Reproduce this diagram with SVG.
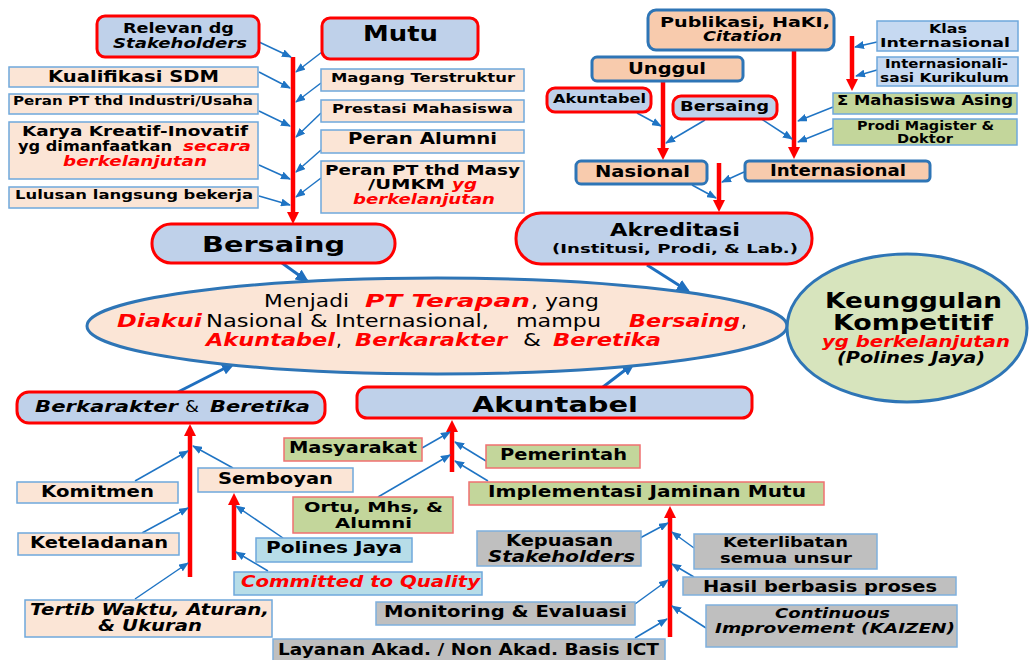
<svg xmlns="http://www.w3.org/2000/svg" width="1029" height="660" viewBox="0 0 1029 660">
<defs>
<style>
text { font-family: "DejaVu Sans", Verdana, "Liberation Sans", sans-serif; font-weight: bold; fill: #000; }
.i { font-style: italic; }
.r { fill: #ff0000; }
.n { font-weight: normal; }
.nb { fill: #bfd1ea; stroke: #ff0000; stroke-width: 3; }
.np { fill: #fbe5d6; stroke: #6fa8dc; stroke-width: 1.5; }
.no { fill: #f8cbad; stroke: #2e75b6; stroke-width: 3; }
.nl { fill: #c6d9f1; stroke: #6fa8dc; stroke-width: 1.5; }
.ng { fill: #c3d69b; stroke: #f07070; stroke-width: 1.5; }
.ngb { fill: #c3d69b; stroke: #6fa8dc; stroke-width: 1.5; }
.ny { fill: #bfbfbf; stroke: #7fb0dd; stroke-width: 1.5; }
.nc { fill: #b7dde8; stroke: #6fa8dc; stroke-width: 1.5; }
.bl { stroke: #1f74c4; stroke-width: 1.5; fill: none; marker-end: url(#ab); }
.bt { stroke: #1f6fbf; stroke-width: 3; fill: none; marker-end: url(#abt); }
.rl { stroke: #ff0000; stroke-width: 4.5; fill: none; marker-end: url(#ar); }
</style>
<marker id="ab" markerUnits="userSpaceOnUse" markerWidth="10" markerHeight="8" refX="9" refY="4" orient="auto">
<path d="M0,0 L10,4 L0,8 z" fill="#1f74c4"/>
</marker>
<marker id="abt" markerUnits="userSpaceOnUse" markerWidth="14" markerHeight="12" refX="11" refY="6" orient="auto">
<path d="M0,0 L14,6 L0,12 z" fill="#1f6fbf"/>
</marker>
<marker id="ar" markerUnits="userSpaceOnUse" markerWidth="12" markerHeight="12" refX="3" refY="6" orient="auto">
<path d="M0,0 L12,6 L0,12 z" fill="#ff0000"/>
</marker>
</defs>

<rect width="1029" height="660" fill="#ffffff"/>

<!-- connectors -->
<g id="connectors">
<!-- red trunks -->
<line class="rl" x1="293" y1="57" x2="293" y2="215"/>
<line class="rl" x1="663" y1="81" x2="663" y2="151"/>
<line class="rl" x1="794" y1="50" x2="794" y2="150"/>
<line class="rl" x1="852" y1="36" x2="852" y2="82"/>
<line class="rl" x1="719" y1="163" x2="719" y2="203"/>
<line class="rl" x1="190" y1="577" x2="190" y2="433"/>
<line class="rl" x1="234" y1="560" x2="234" y2="502"/>
<line class="rl" x1="452" y1="472" x2="452" y2="429"/>
<line class="rl" x1="670" y1="637" x2="670" y2="515"/>
<!-- feeders, top left -->
<line class="bl" x1="259" y1="42" x2="291" y2="57"/>
<line class="bl" x1="259" y1="72" x2="290" y2="88"/>
<line class="bl" x1="259" y1="111" x2="290" y2="126"/>
<line class="bl" x1="259" y1="165" x2="290" y2="179"/>
<line class="bl" x1="259" y1="196" x2="290" y2="205"/>
<line class="bl" x1="322" y1="52" x2="296" y2="72"/>
<line class="bl" x1="321" y1="83" x2="296" y2="102"/>
<line class="bl" x1="321" y1="113" x2="296" y2="137"/>
<line class="bl" x1="321" y1="150" x2="296" y2="172"/>
<line class="bl" x1="321" y1="178" x2="296" y2="197"/>
<!-- feeders, top right -->
<line class="bl" x1="877" y1="42" x2="855" y2="47"/>
<line class="bl" x1="877" y1="70" x2="856" y2="76"/>
<line class="bl" x1="833" y1="107" x2="798" y2="121"/>
<line class="bl" x1="833" y1="128" x2="798" y2="142"/>
<line class="bl" x1="637" y1="113" x2="661" y2="126"/>
<line class="bl" x1="705" y1="120" x2="666" y2="143"/>
<line class="bl" x1="760" y1="118" x2="792" y2="139"/>
<line class="bl" x1="744" y1="172" x2="722" y2="182"/>
<line class="bl" x1="692" y1="185" x2="716" y2="198"/>
<!-- into the vision ellipse -->
<line class="bt" x1="282" y1="263" x2="307" y2="281"/>
<line class="bt" x1="647" y1="265" x2="688" y2="291"/>
<line class="bt" x1="178" y1="392" x2="233" y2="364"/>
<line class="bt" x1="603" y1="387" x2="633" y2="364"/>
<!-- feeders, bottom left -->
<line class="bl" x1="135" y1="481" x2="188" y2="451"/>
<line class="bl" x1="142" y1="533" x2="188" y2="508"/>
<line class="bl" x1="135" y1="599" x2="188" y2="563"/>
<line class="bl" x1="233" y1="468" x2="193" y2="446"/>
<line class="bl" x1="283" y1="538" x2="236" y2="506"/>
<line class="bl" x1="268" y1="571" x2="236" y2="552"/>
<line class="bl" x1="422" y1="448" x2="450" y2="432"/>
<line class="bl" x1="378" y1="497" x2="450" y2="455"/>
<line class="bl" x1="486" y1="461" x2="455" y2="442"/>
<line class="bl" x1="488" y1="481" x2="455" y2="461"/>
<!-- feeders, bottom right -->
<line class="bl" x1="640" y1="538" x2="668" y2="523"/>
<line class="bl" x1="694" y1="548" x2="672" y2="532"/>
<line class="bl" x1="694" y1="577" x2="672" y2="564"/>
<line class="bl" x1="635" y1="604" x2="668" y2="580"/>
<line class="bl" x1="706" y1="628" x2="672" y2="606"/>
<line class="bl" x1="635" y1="638" x2="667" y2="619"/>
</g>

<!-- top left cluster -->
<g id="relevan">
<rect class="nb" x="97" y="16" width="162" height="41" rx="8"/>
<text x="123" y="33" font-size="14" textLength="111" lengthAdjust="spacingAndGlyphs">Relevan dg</text>
<text class="i" x="113" y="48" font-size="14" textLength="134" lengthAdjust="spacingAndGlyphs">Stakeholders</text>
</g>
<g id="mutu">
<rect class="nb" x="322" y="18" width="156" height="41" rx="8"/>
<text x="363" y="41" font-size="21" textLength="75" lengthAdjust="spacingAndGlyphs">Mutu</text>
</g>
<g id="kualifikasi">
<rect class="np" x="9" y="67" width="249" height="20"/>
<text x="48" y="82" font-size="15" textLength="171" lengthAdjust="spacingAndGlyphs">Kualifikasi SDM</text>
</g>
<g id="peran-industri">
<rect class="np" x="9" y="94" width="249" height="20"/>
<text x="13" y="105" font-size="12" textLength="240" lengthAdjust="spacingAndGlyphs">Peran PT thd Industri/Usaha</text>
</g>
<g id="karya">
<rect class="np" x="9" y="122" width="249" height="57"/>
<text x="22" y="136" font-size="14" textLength="226" lengthAdjust="spacingAndGlyphs">Karya Kreatif-Inovatif</text>
<text x="18" y="151" font-size="14" textLength="154" lengthAdjust="spacingAndGlyphs">yg dimanfaatkan</text>
<text class="i r" x="183" y="151" font-size="14" textLength="68" lengthAdjust="spacingAndGlyphs">secara</text>
<text class="i r" x="63" y="166" font-size="14" textLength="144" lengthAdjust="spacingAndGlyphs">berkelanjutan</text>
</g>
<g id="lulusan">
<rect class="np" x="9" y="187" width="249" height="21"/>
<text x="15" y="199" font-size="13" textLength="238" lengthAdjust="spacingAndGlyphs">Lulusan langsung bekerja</text>
</g>
<g id="magang">
<rect class="np" x="321" y="69" width="203" height="22"/>
<text x="331" y="82" font-size="13" textLength="184" lengthAdjust="spacingAndGlyphs">Magang Terstruktur</text>
</g>
<g id="prestasi">
<rect class="np" x="321" y="100" width="203" height="22"/>
<text x="332" y="113" font-size="13" textLength="181" lengthAdjust="spacingAndGlyphs">Prestasi Mahasiswa</text>
</g>
<g id="alumni">
<rect class="np" x="321" y="130" width="203" height="23"/>
<text x="348" y="144" font-size="15" textLength="149" lengthAdjust="spacingAndGlyphs">Peran Alumni</text>
</g>
<g id="peran-masy">
<rect class="np" x="321" y="161" width="203" height="52"/>
<text x="325" y="175" font-size="14" textLength="195" lengthAdjust="spacingAndGlyphs">Peran PT thd  Masy</text>
<text x="368" y="189" font-size="14" textLength="77" lengthAdjust="spacingAndGlyphs">/UMKM</text>
<text class="i r" x="452" y="189" font-size="14" textLength="25" lengthAdjust="spacingAndGlyphs">yg</text>
<text class="i r" x="353" y="204" font-size="14" textLength="142" lengthAdjust="spacingAndGlyphs">berkelanjutan</text>
</g>
<g id="bersaing">
<rect class="nb" x="152" y="224" width="243" height="39" rx="19"/>
<text x="202" y="252" font-size="22" textLength="143" lengthAdjust="spacingAndGlyphs">Bersaing</text>
</g>

<!-- top right cluster -->
<g id="publikasi">
<rect class="no" x="648" y="10" width="186" height="40" rx="8"/>
<text x="660" y="27" font-size="14" textLength="170" lengthAdjust="spacingAndGlyphs">Publikasi, HaKI,</text>
<text class="i" x="703" y="41" font-size="14" textLength="79" lengthAdjust="spacingAndGlyphs">Citation</text>
</g>
<g id="unggul">
<rect class="no" x="592" y="57" width="151" height="24" rx="5"/>
<text x="628" y="74" font-size="16" textLength="78" lengthAdjust="spacingAndGlyphs">Unggul</text>
</g>
<g id="akuntabel-kecil">
<rect class="nb" x="547" y="88" width="104" height="24" rx="8"/>
<text x="553" y="103" font-size="13" textLength="93" lengthAdjust="spacingAndGlyphs">Akuntabel</text>
</g>
<g id="bersaing-kecil">
<rect class="nb" x="673" y="96" width="104" height="23" rx="8"/>
<text x="680" y="111" font-size="14" textLength="89" lengthAdjust="spacingAndGlyphs">Bersaing</text>
</g>
<g id="nasional">
<rect class="no" x="576" y="161" width="131" height="23" rx="5"/>
<text x="595" y="177" font-size="15" textLength="95" lengthAdjust="spacingAndGlyphs">Nasional</text>
</g>
<g id="internasional">
<rect class="no" x="745" y="161" width="185" height="20" rx="4"/>
<text x="770" y="176" font-size="15" textLength="136" lengthAdjust="spacingAndGlyphs">Internasional</text>
</g>
<g id="klas">
<rect class="nl" x="877" y="21" width="141" height="30"/>
<text x="929" y="33" font-size="13" textLength="38" lengthAdjust="spacingAndGlyphs">Klas</text>
<text x="880" y="47" font-size="13" textLength="130" lengthAdjust="spacingAndGlyphs">Internasional</text>
</g>
<g id="kurikulum">
<rect class="nl" x="877" y="57" width="141" height="29"/>
<text x="885" y="68" font-size="13" textLength="123" lengthAdjust="spacingAndGlyphs">Internasionali-</text>
<text x="880" y="82" font-size="13" textLength="129" lengthAdjust="spacingAndGlyphs">sasi Kurikulum</text>
</g>
<g id="mahasiswa-asing">
<rect class="ngb" x="833" y="93" width="184" height="21"/>
<text x="837" y="105" font-size="13.5" textLength="176" lengthAdjust="spacingAndGlyphs">Σ Mahasiswa Asing</text>
</g>
<g id="prodi">
<rect class="ngb" x="833" y="119" width="184" height="26"/>
<text x="857" y="130" font-size="12" textLength="137" lengthAdjust="spacingAndGlyphs">Prodi Magister &amp;</text>
<text x="897" y="143" font-size="12" textLength="56" lengthAdjust="spacingAndGlyphs">Doktor</text>
</g>
<g id="akreditasi">
<rect class="nb" x="516" y="213" width="296" height="51" rx="25"/>
<text x="610" y="236" font-size="17" textLength="130" lengthAdjust="spacingAndGlyphs">Akreditasi</text>
<text x="552" y="253" font-size="13" textLength="246" lengthAdjust="spacingAndGlyphs">(Institusi, Prodi, &amp; Lab.)</text>
</g>

<!-- vision -->
<g id="visi">
<ellipse cx="437" cy="326" rx="350" ry="48" fill="#fbe5d6" stroke="#2e75b6" stroke-width="3"/>
<text class="n" x="264" y="307" font-size="18" textLength="85" lengthAdjust="spacingAndGlyphs">Menjadi</text>
<text class="i r" x="365" y="307" font-size="18" textLength="165" lengthAdjust="spacingAndGlyphs">PT Terapan</text>
<text class="n" x="531" y="307" font-size="18" textLength="68" lengthAdjust="spacingAndGlyphs">, yang</text>
<text class="i r" x="117" y="327" font-size="18" textLength="85" lengthAdjust="spacingAndGlyphs">Diakui</text>
<text class="n" x="206" y="327" font-size="18" textLength="283" lengthAdjust="spacingAndGlyphs">Nasional &amp; Internasional,</text>
<text class="n" x="516" y="327" font-size="18" textLength="85" lengthAdjust="spacingAndGlyphs">mampu</text>
<text class="i r" x="629" y="327" font-size="18" textLength="111" lengthAdjust="spacingAndGlyphs">Bersaing</text>
<text class="n" x="741" y="327" font-size="18">,</text>
<text class="i r" x="206" y="346" font-size="18" textLength="129" lengthAdjust="spacingAndGlyphs">Akuntabel</text>
<text class="n" x="336" y="346" font-size="18">,</text>
<text class="i r" x="355" y="346" font-size="18" textLength="152" lengthAdjust="spacingAndGlyphs">Berkarakter</text>
<text class="n" x="523" y="346" font-size="18" textLength="18" lengthAdjust="spacingAndGlyphs">&amp;</text>
<text class="i r" x="553" y="346" font-size="18" textLength="108" lengthAdjust="spacingAndGlyphs">Beretika</text>
</g>
<g id="keunggulan">
<ellipse cx="907" cy="328" rx="120" ry="74" fill="#d7e4bd" stroke="#2e75b6" stroke-width="3"/>
<text x="825" y="308" font-size="21" textLength="177" lengthAdjust="spacingAndGlyphs">Keunggulan</text>
<text x="833" y="330" font-size="21" textLength="160" lengthAdjust="spacingAndGlyphs">Kompetitif</text>
<text class="i r" x="822" y="347" font-size="15" textLength="188" lengthAdjust="spacingAndGlyphs">yg berkelanjutan</text>
<text class="i" x="837" y="363" font-size="15" textLength="148" lengthAdjust="spacingAndGlyphs">(Polines Jaya)</text>
</g>

<!-- bottom left cluster -->
<g id="berkarakter">
<rect class="nb" x="17" y="392" width="308" height="31" rx="12"/>
<text class="i" x="35" y="412" font-size="15" textLength="143" lengthAdjust="spacingAndGlyphs">Berkarakter</text>
<text class="n" x="185" y="412" font-size="15" textLength="14" lengthAdjust="spacingAndGlyphs">&amp;</text>
<text class="i" x="210" y="412" font-size="15" textLength="100" lengthAdjust="spacingAndGlyphs">Beretika</text>
</g>
<g id="komitmen">
<rect class="np" x="17" y="482" width="161" height="21"/>
<text x="41" y="497" font-size="15" textLength="113" lengthAdjust="spacingAndGlyphs">Komitmen</text>
</g>
<g id="keteladanan">
<rect class="np" x="18" y="533" width="161" height="22"/>
<text x="30" y="548" font-size="15" textLength="138" lengthAdjust="spacingAndGlyphs">Keteladanan</text>
</g>
<g id="tertib">
<rect class="np" x="25" y="600" width="247" height="37"/>
<text class="i" x="30" y="615" font-size="15" textLength="239" lengthAdjust="spacingAndGlyphs">Tertib Waktu, Aturan,</text>
<text class="i" x="98" y="631" font-size="15" textLength="104" lengthAdjust="spacingAndGlyphs">&amp; Ukuran</text>
</g>
<g id="semboyan">
<rect class="np" x="198" y="468" width="155" height="24"/>
<text x="218" y="484" font-size="15" textLength="115" lengthAdjust="spacingAndGlyphs">Semboyan</text>
</g>
<g id="polines-jaya">
<rect class="nc" x="256" y="538" width="156" height="24"/>
<text x="266" y="553" font-size="15" textLength="136" lengthAdjust="spacingAndGlyphs">Polines Jaya</text>
</g>
<g id="committed">
<rect class="nc" x="234" y="572" width="248" height="23"/>
<text class="i r" x="241" y="587" font-size="15" textLength="239" lengthAdjust="spacingAndGlyphs">Committed to Quality</text>
</g>

<!-- accountability cluster -->
<g id="akuntabel">
<rect class="nb" x="357" y="387" width="395" height="31" rx="10"/>
<text x="472" y="412" font-size="22" textLength="166" lengthAdjust="spacingAndGlyphs">Akuntabel</text>
</g>
<g id="masyarakat">
<rect class="ng" x="284" y="438" width="138" height="23"/>
<text x="289" y="453" font-size="15" textLength="128" lengthAdjust="spacingAndGlyphs">Masyarakat</text>
</g>
<g id="pemerintah">
<rect class="ng" x="486" y="445" width="154" height="23"/>
<text x="500" y="460" font-size="15" textLength="127" lengthAdjust="spacingAndGlyphs">Pemerintah</text>
</g>
<g id="ortu">
<rect class="ng" x="293" y="497" width="160" height="36"/>
<text x="304" y="512" font-size="14" textLength="139" lengthAdjust="spacingAndGlyphs">Ortu, Mhs, &amp;</text>
<text x="335" y="528" font-size="14" textLength="77" lengthAdjust="spacingAndGlyphs">Alumni</text>
</g>
<g id="implementasi">
<rect class="ng" x="469" y="482" width="355" height="23"/>
<text x="488" y="497" font-size="15" textLength="318" lengthAdjust="spacingAndGlyphs">Implementasi Jaminan Mutu</text>
</g>
<g id="kepuasan">
<rect class="ny" x="477" y="531" width="164" height="35"/>
<text x="506" y="546" font-size="15" textLength="107" lengthAdjust="spacingAndGlyphs">Kepuasan</text>
<text class="i" x="488" y="562" font-size="15" textLength="147" lengthAdjust="spacingAndGlyphs">Stakeholders</text>
</g>
<g id="keterlibatan">
<rect class="ny" x="694" y="534" width="183" height="35"/>
<text x="723" y="547" font-size="14" textLength="125" lengthAdjust="spacingAndGlyphs">Keterlibatan</text>
<text x="720" y="563" font-size="14" textLength="132" lengthAdjust="spacingAndGlyphs">semua unsur</text>
</g>
<g id="hasil">
<rect class="ny" x="683" y="577" width="273" height="18"/>
<text x="703" y="592" font-size="15" textLength="234" lengthAdjust="spacingAndGlyphs">Hasil berbasis proses</text>
</g>
<g id="continuous">
<rect class="ny" x="706" y="605" width="251" height="42"/>
<text class="i" x="775" y="618" font-size="14" textLength="115" lengthAdjust="spacingAndGlyphs">Continuous</text>
<text class="i" x="715" y="633" font-size="14" textLength="240" lengthAdjust="spacingAndGlyphs">Improvement (KAIZEN)</text>
</g>
<g id="monitoring">
<rect class="ny" x="376" y="602" width="259" height="23"/>
<text x="384" y="617" font-size="15" textLength="243" lengthAdjust="spacingAndGlyphs">Monitoring &amp; Evaluasi</text>
</g>
<g id="layanan">
<rect class="ny" x="273" y="639" width="392" height="23"/>
<text x="278" y="655" font-size="15" textLength="381" lengthAdjust="spacingAndGlyphs">Layanan Akad. / Non Akad. Basis ICT</text>
</g>
</svg>
